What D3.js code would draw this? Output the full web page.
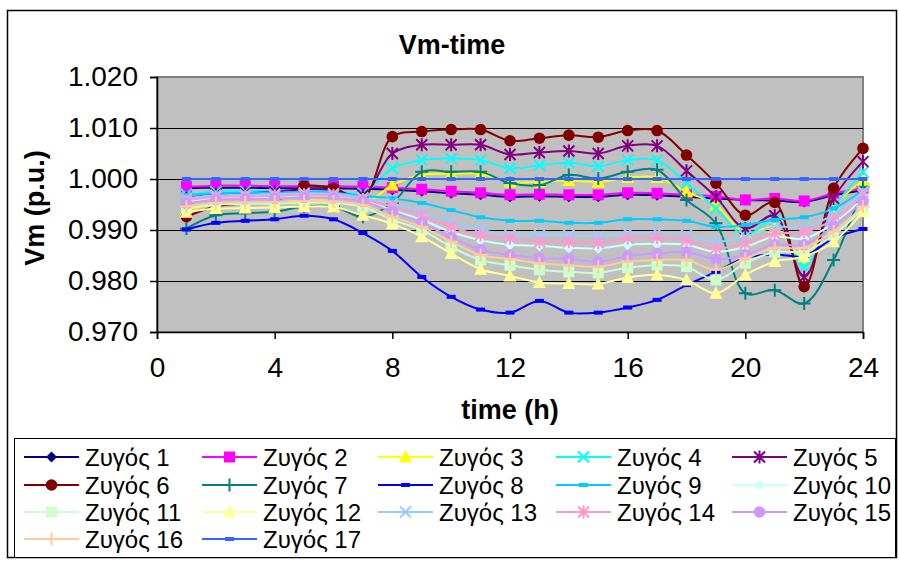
<!DOCTYPE html>
<html>
<head>
<meta charset="utf-8">
<script src="https://cdn.jsdelivr.net/npm/d3@7"></script>
<style>
  html, body { margin: 0; padding: 0; background: #fff; }
  svg { display: block; font-family: "Liberation Sans", Arial, sans-serif; }
</style>
</head>
<body>
<svg id="chart" width="899" height="562"></svg>
<script>
// Hours of the day (x values)
const hours = [1,2,3,4,5,6,7,8,9,10,11,12,13,14,15,16,17,18,19,20,21,22,23,24];

// Bus voltage magnitudes (p.u.) per hour
const bus1  = [0.9982,0.9983,0.9983,0.9982,0.9982,0.9982,0.9981,0.9979,0.9976,0.9972,0.9969,0.9965,0.9966,0.9965,0.9965,0.9969,0.9968,0.9965,0.9962,0.9959,0.9958,0.9955,0.9968,0.9978];
const bus2  = [0.9985,0.9987,0.9987,0.9986,0.9986,0.9986,0.9985,0.9983,0.9980,0.9976,0.9973,0.9969,0.9970,0.9969,0.9969,0.9973,0.9972,0.9969,0.9966,0.9959,0.9962,0.9957,0.9972,0.9982];
const bus3  = [0.9940,0.9950,0.9952,0.9953,0.9958,0.9957,0.9950,0.9988,1.0008,1.0010,1.0010,0.9994,0.9994,0.9997,0.9994,1.0003,1.0003,0.9975,0.9949,0.9893,0.9905,0.9845,0.9946,0.9997];
const bus4  = [0.9970,0.9975,0.9976,0.9977,0.9979,0.9978,0.9972,1.0021,1.0037,1.0040,1.0037,1.0021,1.0027,1.0032,1.0025,1.0037,1.0037,0.9992,0.9942,0.9890,0.9920,0.9828,0.9943,1.0014];
const bus5  = [0.9962,0.9970,0.9972,0.9975,0.9980,0.9978,0.9968,1.0050,1.0067,1.0067,1.0067,1.0048,1.0052,1.0055,1.0050,1.0065,1.0065,1.0016,0.9965,0.9903,0.9928,0.9808,0.9962,1.0034];
const bus6  = [0.9926,0.9946,0.9952,0.9956,0.9986,0.9982,0.9962,1.0083,1.0093,1.0097,1.0097,1.0075,1.0080,1.0086,1.0082,1.0095,1.0095,1.0047,0.9992,0.9929,0.9954,0.9789,0.9982,1.0060];
const bus7  = [0.9903,0.9929,0.9933,0.9936,0.9946,0.9946,0.9926,0.9953,1.0014,1.0014,1.0014,0.9992,0.9988,1.0008,1.0001,1.0014,1.0018,0.9959,0.9913,0.9776,0.9782,0.9756,0.9841,0.9985];
const bus8  = [0.9901,0.9914,0.9918,0.9921,0.9928,0.9921,0.9894,0.9859,0.9808,0.9769,0.9744,0.9738,0.9761,0.9738,0.9738,0.9748,0.9763,0.9792,0.9818,0.9845,0.9852,0.9849,0.9884,0.9902];
const bus9  = [0.9968,0.9972,0.9973,0.9973,0.9975,0.9973,0.9967,0.9962,0.9953,0.9939,0.9925,0.9918,0.9918,0.9914,0.9914,0.9921,0.9921,0.9918,0.9906,0.9910,0.9920,0.9925,0.9942,0.9978];
const bus10 = [0.9955,0.9962,0.9963,0.9964,0.9966,0.9965,0.9957,0.9939,0.9920,0.9896,0.9880,0.9871,0.9869,0.9865,0.9864,0.9871,0.9873,0.9871,0.9857,0.9867,0.9887,0.9883,0.9913,0.9962];
const bus11 = [0.9943,0.9950,0.9951,0.9952,0.9954,0.9953,0.9945,0.9920,0.9900,0.9867,0.9841,0.9831,0.9822,0.9818,0.9816,0.9826,0.9831,0.9828,0.9802,0.9835,0.9857,0.9858,0.9890,0.9943];
const bus12 = [0.9935,0.9942,0.9943,0.9944,0.9946,0.9945,0.9929,0.9912,0.9887,0.9854,0.9823,0.9810,0.9797,0.9795,0.9794,0.9807,0.9812,0.9802,0.9776,0.9812,0.9838,0.9848,0.9877,0.9936];
const bus13 = [0.9962,0.9968,0.9969,0.9970,0.9972,0.9971,0.9963,0.9952,0.9936,0.9916,0.9901,0.9890,0.9890,0.9890,0.9887,0.9894,0.9895,0.9890,0.9877,0.9887,0.9906,0.9906,0.9930,0.9975];
const bus14 = [0.9958,0.9965,0.9966,0.9967,0.9969,0.9968,0.9960,0.9946,0.9928,0.9906,0.9890,0.9884,0.9877,0.9877,0.9875,0.9884,0.9885,0.9880,0.9864,0.9874,0.9893,0.9896,0.9921,0.9969];
const bus15 = [0.9952,0.9960,0.9961,0.9962,0.9964,0.9963,0.9956,0.9936,0.9914,0.9886,0.9861,0.9851,0.9845,0.9843,0.9838,0.9849,0.9854,0.9857,0.9843,0.9851,0.9871,0.9871,0.9907,0.9956];
const bus16 = [0.9946,0.9953,0.9954,0.9955,0.9957,0.9956,0.9949,0.9926,0.9906,0.9877,0.9851,0.9843,0.9835,0.9831,0.9828,0.9838,0.9841,0.9841,0.9822,0.9844,0.9865,0.9865,0.9897,0.9946];
const bus17 = [1.0000,1.0000,1.0000,1.0000,1.0000,1.0000,1.0000,1.0000,1.0000,1.0000,1.0000,1.0000,1.0000,1.0000,1.0000,1.0000,1.0000,1.0000,1.0000,1.0000,1.0000,1.0000,1.0000,1.0000];

const seriesNames = ["Ζυγός 1","Ζυγός 2","Ζυγός 3","Ζυγός 4","Ζυγός 5","Ζυγός 6","Ζυγός 7","Ζυγός 8","Ζυγός 9","Ζυγός 10","Ζυγός 11","Ζυγός 12","Ζυγός 13","Ζυγός 14","Ζυγός 15","Ζυγός 16","Ζυγός 17"];
const seriesValues = [bus1,bus2,bus3,bus4,bus5,bus6,bus7,bus8,bus9,bus10,bus11,bus12,bus13,bus14,bus15,bus16,bus17];
const seriesColors = ["#000080","#FF00FF","#FFFF00","#00FFFF","#800080","#800000","#008080","#0000FF","#00CCFF","#CCFFFF","#CCFFCC","#FFFF99","#99CCFF","#FF99CC","#CC99FF","#FFCC99","#3366FF"];
const seriesMarkers = ["diamond","square","triangle","x","star","circle","plus","dash","dash","diamond","square","triangle","x","star","circle","plus","dash"];

const xTicks = [0,4,8,12,16,20,24];
const yTicks = [0.970,0.980,0.990,1.000,1.010,1.020];

const svg = d3.select("#chart");
const W = 899, H = 562;
const plot = { left: 157, top: 77, right: 863, bottom: 332 };

svg.append("rect").attr("width", W).attr("height", H).attr("fill", "#fff");
// outer chart frame
svg.append("rect").attr("x", 7.5).attr("y", 10.5).attr("width", 889).attr("height", 547)
  .attr("fill", "none").attr("stroke", "#000").attr("stroke-width", 1.5);

const x = d3.scaleLinear().domain([0, 24]).range([plot.left, plot.right]);
const y = d3.scaleLinear().domain([0.970, 1.020]).range([plot.bottom, plot.top]);

// plot area
svg.append("rect").attr("x", plot.left).attr("y", plot.top)
  .attr("width", plot.right - plot.left).attr("height", plot.bottom - plot.top)
  .attr("fill", "#C0C0C0").attr("stroke", "#808080").attr("stroke-width", 2);

// horizontal gridlines
svg.append("g").selectAll("line").data(yTicks.filter(t => t > 0.9705 && t < 1.0195)).join("line")
  .attr("x1", plot.left).attr("x2", plot.right)
  .attr("y1", d => Math.round(y(d)) + 0.5).attr("y2", d => Math.round(y(d)) + 0.5)
  .attr("stroke", "#000").attr("stroke-width", 1);

// axes
const yAxis = d3.axisLeft(y).tickValues(yTicks).tickFormat(d3.format(".3f")).tickSize(7).tickPadding(12);
const gy = svg.append("g").attr("transform", `translate(${plot.left},0)`).call(yAxis);
const xAxis = d3.axisBottom(x).tickValues(xTicks).tickFormat(d3.format("d")).tickSize(7).tickPadding(24);
const gx = svg.append("g").attr("transform", `translate(0,${plot.bottom})`).call(xAxis);
[gx, gy].forEach(g => {
  g.select(".domain").attr("stroke", "#000").attr("stroke-width", 1.5);
  g.selectAll(".tick line").attr("stroke", "#000").attr("stroke-width", 1.5);
  g.selectAll(".tick text").attr("fill", "#000").style("font-size", "28px")
    .style("font-family", "'Liberation Sans', Arial, sans-serif");
});
gx.selectAll(".tick text").attr("dy", "0.5em");

// titles
svg.append("text").attr("x", 452).attr("y", 54).attr("text-anchor", "middle")
  .style("font-size", "27px").style("font-weight", "bold").text("Vm-time");
svg.append("text").attr("x", 510).attr("y", 419).attr("text-anchor", "middle")
  .style("font-size", "27px").style("font-weight", "bold").text("time (h)");
svg.append("text").attr("transform", "translate(44,208) rotate(-90)").attr("text-anchor", "middle")
  .style("font-size", "27px").style("font-weight", "bold").text("Vm (p.u.)");

// marker shapes
function drawMarker(g, type, color, cx, cy) {
  if (type === "diamond") {
    const s = 5.5;
    g.append("path").attr("d", `M${cx},${cy-s}L${cx+s},${cy}L${cx},${cy+s}L${cx-s},${cy}Z`).attr("fill", color);
  } else if (type === "square") {
    g.append("rect").attr("x", cx-5.5).attr("y", cy-5.5).attr("width", 11).attr("height", 11).attr("fill", color);
  } else if (type === "triangle") {
    g.append("path").attr("d", `M${cx},${cy-7}L${cx+6.5},${cy+5.5}L${cx-6.5},${cy+5.5}Z`).attr("fill", color);
  } else if (type === "circle") {
    g.append("circle").attr("cx", cx).attr("cy", cy).attr("r", 5.8).attr("fill", color);
  } else if (type === "x") {
    g.append("path").attr("d", `M${cx-5.5},${cy-5.5}L${cx+5.5},${cy+5.5}M${cx-5.5},${cy+5.5}L${cx+5.5},${cy-5.5}`)
      .attr("stroke", color).attr("stroke-width", 2).attr("fill", "none");
  } else if (type === "star") {
    g.append("path").attr("d", `M${cx-5.5},${cy-5.5}L${cx+5.5},${cy+5.5}M${cx-5.5},${cy+5.5}L${cx+5.5},${cy-5.5}M${cx},${cy-6.5}L${cx},${cy+6.5}`)
      .attr("stroke", color).attr("stroke-width", 2).attr("fill", "none");
  } else if (type === "plus") {
    g.append("path").attr("d", `M${cx-6.5},${cy}L${cx+6.5},${cy}M${cx},${cy-6.5}L${cx},${cy+6.5}`)
      .attr("stroke", color).attr("stroke-width", 2).attr("fill", "none");
  } else if (type === "dash") {
    g.append("rect").attr("x", cx-4.5).attr("y", cy-2).attr("width", 9).attr("height", 4).attr("fill", color);
  }
}

const line = d3.line().x((d, i) => x(hours[i])).y(d => y(d)).curve(d3.curveCatmullRom.alpha(0.5));

const seriesLayer = svg.append("g");
seriesValues.forEach((vals, k) => {
  const g = seriesLayer.append("g");
  g.append("path").attr("d", line(vals)).attr("fill", "none")
    .attr("stroke", seriesColors[k]).attr("stroke-width", 2);
  vals.forEach((v, i) => drawMarker(g, seriesMarkers[k], seriesColors[k], x(hours[i]), y(v)));
});

// legend
const leg = svg.append("g");
leg.append("rect").attr("x", 14.5).attr("y", 438.5).attr("width", 881).attr("height", 119)
  .attr("fill", "#fff").attr("stroke", "#000").attr("stroke-width", 1);
const colX = [24, 202, 378, 556, 732];
const rowY = [457, 485, 512, 539];
seriesNames.forEach((name, k) => {
  const cx = colX[k % 5], cy = rowY[Math.floor(k / 5)];
  const g = leg.append("g");
  g.append("line").attr("x1", cx).attr("x2", cx + 55).attr("y1", cy).attr("y2", cy)
    .attr("stroke", seriesColors[k]).attr("stroke-width", 2);
  drawMarker(g, seriesMarkers[k], seriesColors[k], cx + 27.5, cy);
  g.append("text").attr("x", cx + 61).attr("y", cy).attr("dy", "0.36em")
    .style("font-size", "24px").text(name);
});
</script>
</body>
</html>
